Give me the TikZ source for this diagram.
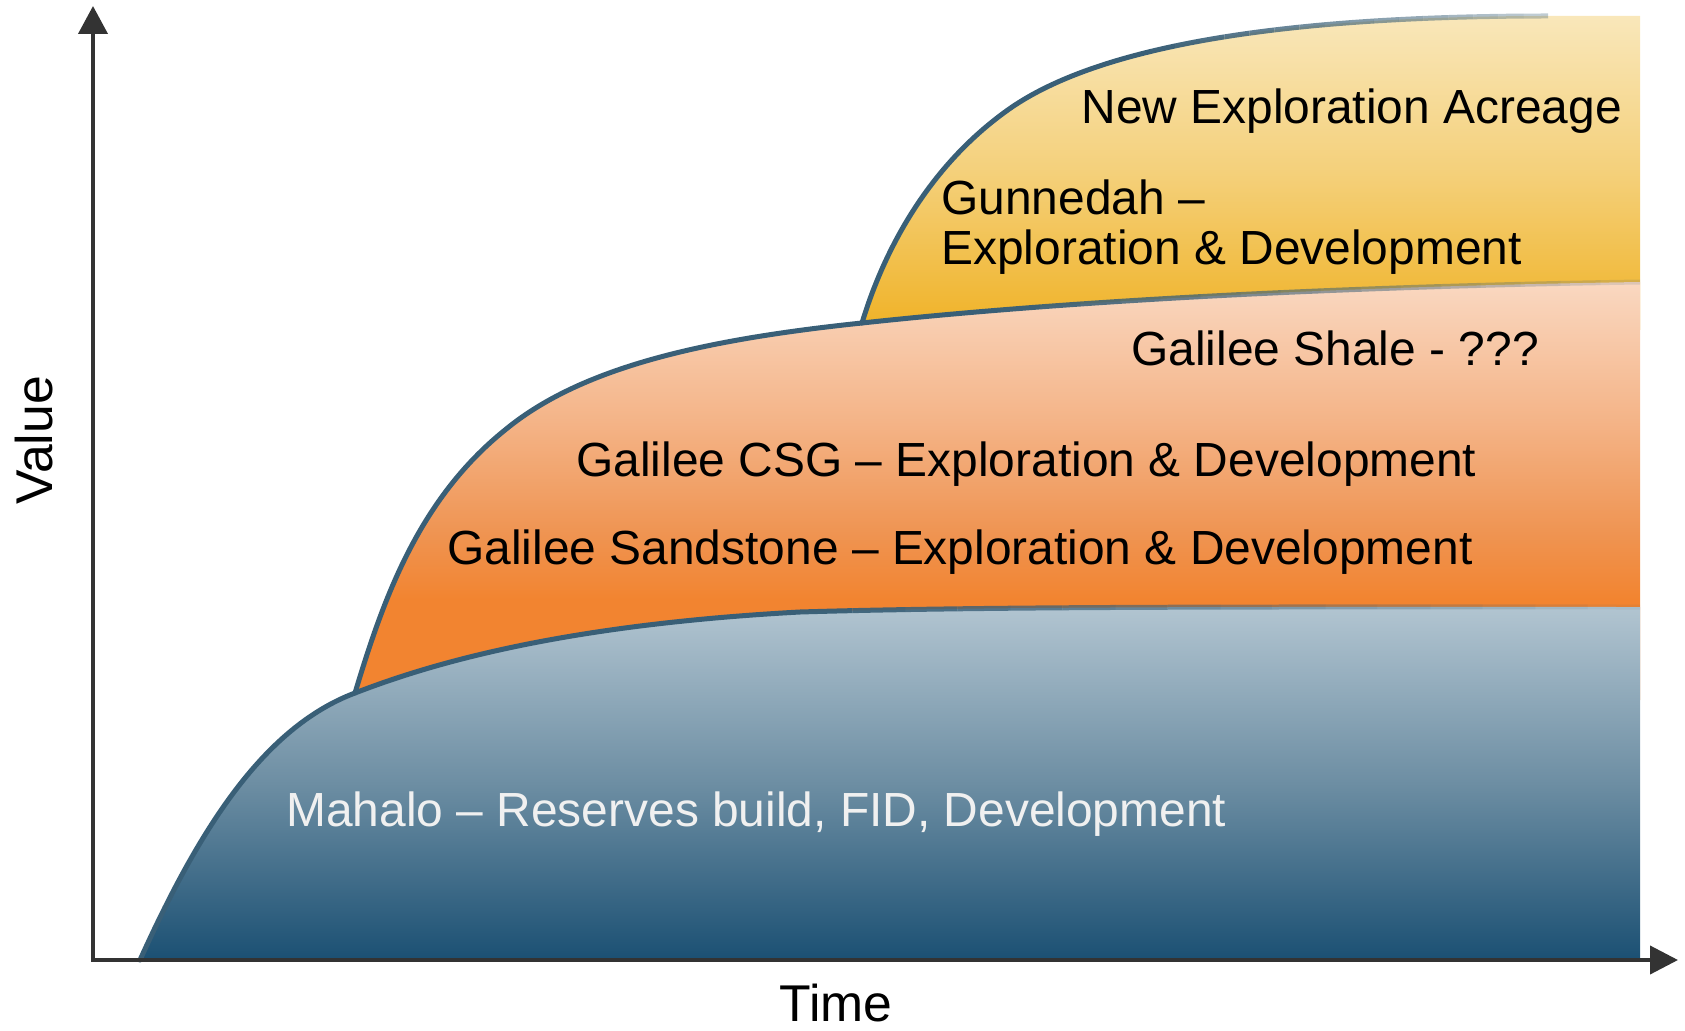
\documentclass[tikz,border=0pt]{standalone}
\usepackage{fontspec}
\setmainfont{Liberation Sans}
\usetikzlibrary{arrows.meta}
\definecolor{edgecol}{HTML}{395F77}
\definecolor{axiscol}{HTML}{333333}
\definecolor{blueA}{HTML}{B2C5D1}
\definecolor{blueB}{HTML}{6D8EA3}
\definecolor{blueC}{HTML}{1B5073}
\definecolor{or1}{HTML}{FAD8C1}
\definecolor{or2}{HTML}{F4B386}
\definecolor{or3}{HTML}{EF9452}
\definecolor{or4}{HTML}{F28430}
\definecolor{yeA}{HTML}{F9E7BA}
\definecolor{yeB}{HTML}{F4D07A}
\definecolor{yeC}{HTML}{F0B226}
\definecolor{mahalocol}{HTML}{F0F0F0}
\pgfdeclareverticalshading{orangeshade}{100bp}{color(0bp)=(or4); color(25bp)=(or4); color(37bp)=(or4); color(45bp)=(or3); color(58bp)=(or2); color(75bp)=(or1); color(100bp)=(or1)}
\tikzset{
  bluetoppath/.style={insert path={(140,960) .. controls (198,832) and (262,728) .. (355,693) .. controls (430,664) and (560,625) .. (800,612) .. controls (1000,606) and (1300,607) .. (1640,607)}},
  orangetoppath/.style={insert path={(355,693) .. controls (383,600) and (418,500) .. (505,430) .. controls (580,368) and (700,340) .. (862,323) .. controls (1000,308) and (1250,288) .. (1640,282)}},
  yellowtoppath/.style={insert path={(862,323) .. controls (884,250) and (928,168) .. (1005,112) .. controls (1100,42) and (1300,16) .. (1548,16)}},
  edge/.style={draw=edgecol, line width=2.5pt, line cap=round, line join=round},
  axis/.style={draw=axiscol, line width=2pt, line join=miter, arrows={Triangle[length=14pt,width=14.5pt]-Triangle[length=14pt,width=14pt]}},
  lbl/.style={font=\fontsize{23.95pt}{28pt}\selectfont, inner sep=0pt, anchor=base west, text=black},
  axlbl/.style={font=\fontsize{25.85pt}{30pt}\selectfont, inner sep=0pt, anchor=base west, text=black}
}
\newcommand\fadeedge[4]{%
  \begin{scope}\clip (0,0) rectangle (#2,1031);\draw[edge,#1];\end{scope}%
  \foreach \k in {0,...,15}{%
    \pgfmathsetmacro\xa{#2+(#3-#2)*\k/16}%
    \pgfmathsetmacro\xb{#2+(#3-#2)*(\k+1)/16}%
    \pgfmathsetmacro\op{1-(1-#4)*(\k+0.5)/16}%
    \begin{scope}\clip (\xa,0) rectangle (\xb,1031);\draw[edge,#1,draw opacity=\op];\end{scope}%
  }%
}
\begin{document}
\begin{tikzpicture}[x=0.5pt,y=-0.5pt]
\useasboundingbox (0,0) rectangle (1685,1031);
% fills
\shade[top color=yeA, bottom color=yeC, middle color=yeB, yellowtoppath] -- (1640,16) -- (1640,330) -- (862,330) -- cycle;
\shade[shading=orangeshade, orangetoppath] -- (1640,700) -- (355,700) -- cycle;
\shade[top color=blueA, bottom color=blueC, middle color=blueB, bluetoppath] -- (1640,960) -- cycle;
% outlines
\fadeedge{bluetoppath}{800}{1640}{0.05}
\fadeedge{orangetoppath}{1000}{1640}{0.12}
\fadeedge{yellowtoppath}{1150}{1548}{0.3}
% labels
\node[lbl] (nea) at (1081,124) {New Exploration Acreage};
\node[lbl] (gun1) at (941,215) {Gunnedah –};
\node[lbl] (gun2) at (941,265) {Exploration \& Development};
\node[lbl] (shale) at (1131,366) {Galilee Shale - ???};
\node[lbl] (csg) at (576,477) {Galilee CSG – Exploration \& Development};
\node[lbl] (sand) at (447,564) {Galilee Sandstone – Exploration \& Development};
\node[lbl, text=mahalocol] (mahalo) at (286,826) {Mahalo – Reserves build, FID, Development};
% axes
\coordinate (ytip) at (93,6);
\coordinate (origin) at (93,960);
\coordinate (xtip) at (1678,960);
\draw[axis] (ytip) -- (origin) -- (xtip);
\node[axlbl, rotate=90] (value) at (52,505) {Value};
\node[axlbl] (time) at (779,1021) {Time};
\end{tikzpicture}
\end{document}
